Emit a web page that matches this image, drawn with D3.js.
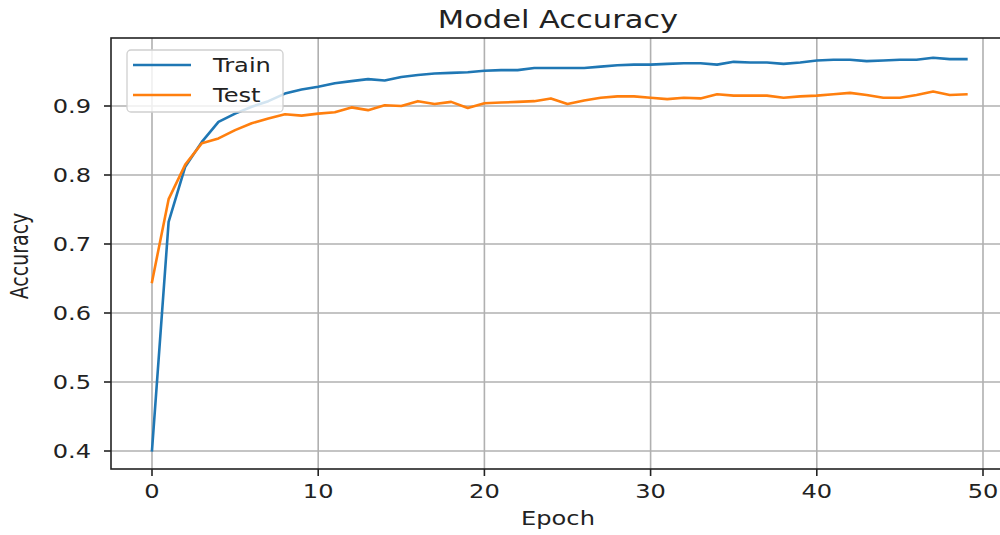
<!DOCTYPE html>
<html>
<head>
<meta charset="utf-8">
<script src="https://cdn.jsdelivr.net/npm/d3@7"></script>
<style>
  html, body { margin: 0; padding: 0; background: #fff; }
  svg { display: block; }
  text { font-family: "DejaVu Sans", sans-serif; fill: #222; }
</style>
</head>
<body>
<script>
// Training history: accuracy per epoch
const epochs = d3.range(0, 50);
const trainAcc = [0.401, 0.732, 0.812, 0.848, 0.877, 0.889, 0.899, 0.907, 0.918, 0.924,
  0.928, 0.933, 0.936, 0.939, 0.937, 0.942, 0.945, 0.947, 0.948, 0.949,
  0.951, 0.952, 0.952, 0.955, 0.955, 0.955, 0.955, 0.957, 0.959, 0.960,
  0.960, 0.961, 0.962, 0.962, 0.960, 0.964, 0.963, 0.963, 0.961, 0.963,
  0.966, 0.967, 0.967, 0.965, 0.966, 0.967, 0.967, 0.970, 0.968, 0.968];
const testAcc = [0.645, 0.765, 0.815, 0.846, 0.853, 0.865, 0.875, 0.882, 0.888, 0.886,
  0.889, 0.891, 0.898, 0.894, 0.901, 0.900, 0.907, 0.903, 0.906, 0.897,
  0.904, 0.905, 0.906, 0.907, 0.911, 0.903, 0.908, 0.912, 0.914, 0.914,
  0.912, 0.910, 0.912, 0.911, 0.917, 0.915, 0.915, 0.915, 0.912, 0.914,
  0.915, 0.917, 0.919, 0.916, 0.912, 0.912, 0.916, 0.921, 0.916, 0.917];
const xTicks = [0, 10, 20, 30, 40, 50];
const yTicks = [0.4, 0.5, 0.6, 0.7, 0.8, 0.9];
const seriesNames = ["Train", "Test"];
const seriesColors = ["#1f77b4", "#ff7f0e"];

const W = 1000, H = 535;
const frame = { left: 111, right: 1007, top: 38, bottom: 469 };
const SX = 1.27;           // horizontal text stretch
const fontSize = 19;

const svg = d3.select("body").append("svg").attr("width", W).attr("height", H);

const x = d3.scaleLinear().domain([0, 50]).range([152, 983]);
const y = d3.scaleLinear().domain([0.4, 0.9]).range([451, 106]);

// grid
const grid = svg.append("g").attr("stroke", "#b0b0b0").attr("stroke-width", 1.6);
grid.selectAll("line.vx").data(xTicks).join("line")
  .attr("x1", d => x(d)).attr("x2", d => x(d))
  .attr("y1", frame.top).attr("y2", frame.bottom);
grid.selectAll("line.hy").data(yTicks).join("line")
  .attr("x1", frame.left).attr("x2", frame.right)
  .attr("y1", d => y(d)).attr("y2", d => y(d));

// lines
const line = d3.line().x((d, i) => x(epochs[i])).y(d => y(d));
[trainAcc, testAcc].forEach((s, k) => {
  svg.append("path").datum(s)
    .attr("d", line)
    .attr("fill", "none")
    .attr("stroke", seriesColors[k])
    .attr("stroke-width", 2.6)
    .attr("stroke-linejoin", "round")
    .attr("stroke-linecap", "square");
});

// frame
svg.append("rect")
  .attr("x", frame.left).attr("y", frame.top)
  .attr("width", frame.right - frame.left).attr("height", frame.bottom - frame.top)
  .attr("fill", "none").attr("stroke", "#222").attr("stroke-width", 1.6);

// x axis ticks
const xAx = svg.append("g");
xAx.selectAll("line").data(xTicks).join("line")
  .attr("x1", d => x(d)).attr("x2", d => x(d))
  .attr("y1", frame.bottom).attr("y2", frame.bottom + 7)
  .attr("stroke", "#222").attr("stroke-width", 1.6);
xAx.selectAll("text").data(xTicks).join("text")
  .attr("transform", d => `translate(${x(d)},${498}) scale(${SX},1)`)
  .attr("text-anchor", "middle")
  .attr("font-size", fontSize)
  .text(d => d3.format("d")(d));

// y axis ticks
const yAx = svg.append("g");
yAx.selectAll("line").data(yTicks).join("line")
  .attr("x1", frame.left - 7).attr("x2", frame.left)
  .attr("y1", d => y(d)).attr("y2", d => y(d))
  .attr("stroke", "#222").attr("stroke-width", 1.6);
yAx.selectAll("text").data(yTicks).join("text")
  .attr("transform", d => `translate(${91},${y(d) + 7}) scale(${SX},1)`)
  .attr("text-anchor", "end")
  .attr("font-size", fontSize)
  .text(d => d3.format(".1f")(d));

// titles
svg.append("text")
  .attr("transform", `translate(558,28) scale(${SX},1)`)
  .attr("text-anchor", "middle")
  .attr("font-size", 24)
  .text("Model Accuracy");
svg.append("text")
  .attr("transform", `translate(558,525) scale(${SX},1)`)
  .attr("text-anchor", "middle")
  .attr("font-size", fontSize)
  .text("Epoch");
svg.append("text")
  .attr("transform", `translate(28,256) scale(${SX},1) rotate(-90)`)
  .attr("text-anchor", "middle")
  .attr("font-size", fontSize)
  .text("Accuracy");

// legend
const lg = svg.append("g");
lg.append("rect")
  .attr("x", 127).attr("y", 50).attr("width", 156).attr("height", 62)
  .attr("rx", 4).attr("fill", "#fff").attr("fill-opacity", 0.8)
  .attr("stroke", "#d0d0d0").attr("stroke-width", 1.3);
seriesNames.forEach((name, k) => {
  const cy = 65 + k * 30;
  lg.append("line")
    .attr("x1", 133).attr("x2", 191).attr("y1", cy).attr("y2", cy)
    .attr("stroke", seriesColors[k]).attr("stroke-width", 2.6);
  lg.append("text")
    .attr("transform", `translate(213,${cy + 7}) scale(${SX},1)`)
    .attr("font-size", fontSize)
    .text(name);
});
</script>
</body>
</html>
